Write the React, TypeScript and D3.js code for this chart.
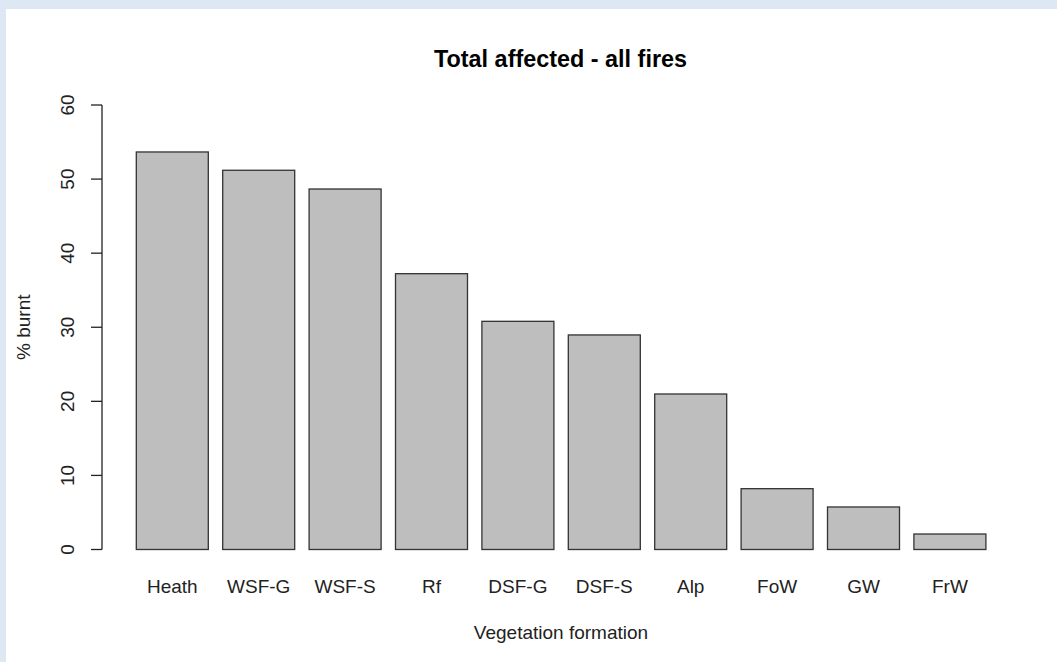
import React from "react";
import * as d3 from "d3";

const categories = ["Heath", "WSF-G", "WSF-S", "Rf", "DSF-G", "DSF-S", "Alp", "FoW", "GW", "FrW"];
const values = [53.66, 51.19, 48.66, 37.23, 30.8, 28.96, 20.99, 8.21, 5.74, 2.09];
const yTicks = [0, 10, 20, 30, 40, 50, 60];
const title = "Total affected - all fires";
const xTitle = "Vegetation formation";
const yTitle = "% burnt";

const W = 1057;
const H = 662;
const FONT = "'Liberation Sans', Arial, sans-serif";

export default function App() {
  const y = d3.scaleLinear().domain([0, 60]).range([549.5, 105]);
  const x = d3
    .scaleBand<string>()
    .domain(categories)
    .range([129.1, 993.1])
    .paddingInner(1 / 6)
    .paddingOuter(1 / 12);
  const axisX = 102;
  const plotMid = (y(0) + y(60)) / 2;

  return (
    <svg
      width={W}
      height={H}
      style={{ position: "absolute", left: 0, top: 0, background: "#ffffff" }}
      fontFamily={FONT}
    >
      <rect x={0} y={0} width={W} height={9} fill="#dde8f4" />
      <rect x={0} y={0} width={6} height={H} fill="#dde8f4" />

      <text x={560.5} y={66.5} textAnchor="middle" fontWeight="bold" fontSize={23.4} fill="#000">
        {title}
      </text>

      {categories.map((c, i) => (
        <rect
          key={c}
          x={x(c)}
          y={y(values[i])}
          width={x.bandwidth()}
          height={y(0) - y(values[i])}
          fill="#bebebe"
          stroke="#333"
          strokeWidth={1.3}
        />
      ))}

      <line x1={axisX} x2={axisX} y1={y(60)} y2={y(0)} stroke="#222" strokeWidth={1.3} />
      {yTicks.map((t) => (
        <g key={t}>
          <line x1={axisX - 11} x2={axisX} y1={y(t)} y2={y(t)} stroke="#222" strokeWidth={1.3} />
          <text
            transform={`translate(74,${y(t)}) rotate(-90)`}
            textAnchor="middle"
            fontSize={19}
            fill="#222"
          >
            {t}
          </text>
        </g>
      ))}

      {categories.map((c) => (
        <text
          key={c}
          x={(x(c) as number) + x.bandwidth() / 2}
          y={592.5}
          textAnchor="middle"
          fontSize={19}
          fill="#222"
        >
          {c}
        </text>
      ))}

      <text x={561} y={639} textAnchor="middle" fontSize={19} fill="#222">
        {xTitle}
      </text>
      <text
        transform={`translate(29.5,${plotMid}) rotate(-90)`}
        textAnchor="middle"
        fontSize={19}
        fill="#222"
      >
        {yTitle}
      </text>
    </svg>
  );
}
